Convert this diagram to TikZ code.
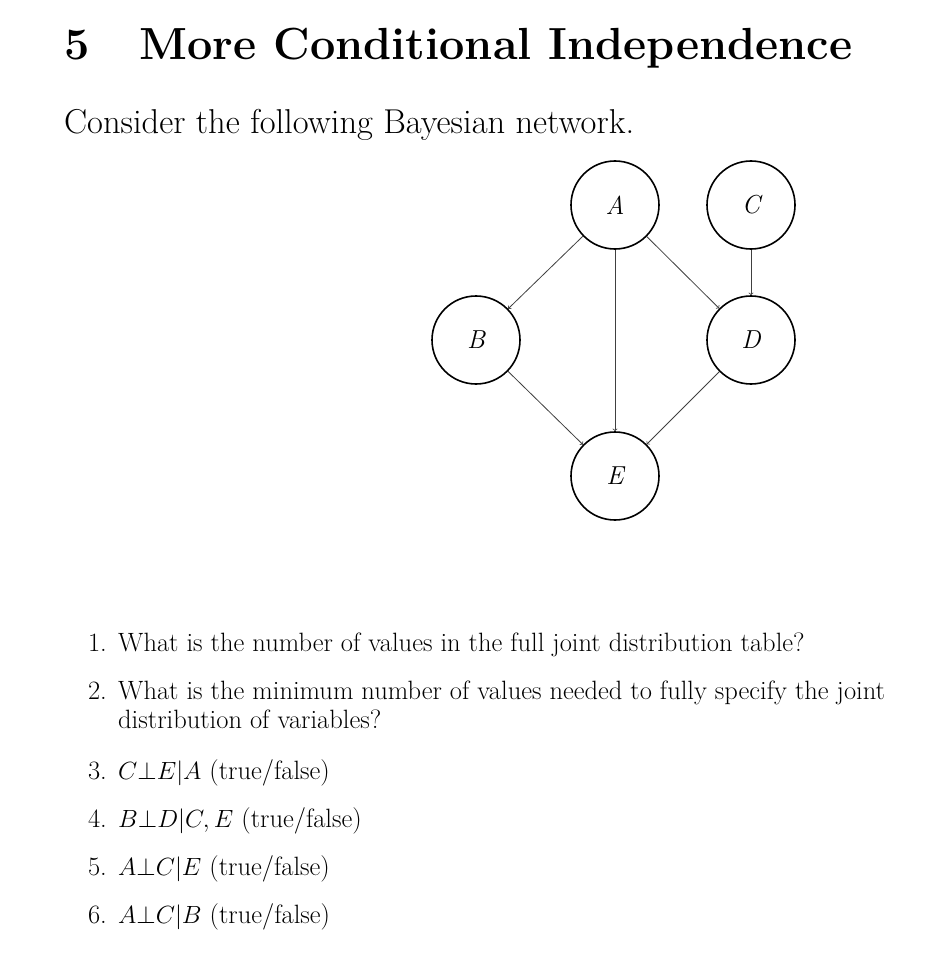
\documentclass[tikz,border=0pt]{standalone}
\usepackage{amsmath}
\begin{document}
\begin{tikzpicture}[x=1pt,y=-1pt,
  bn/.style={circle,draw,line width=1.6pt,minimum size=88pt,inner sep=0pt,font=\fontsize{26}{30}\selectfont\itshape},
  edge/.style={->,line width=0.8pt,draw=black!75},
  txt/.style={anchor=base west,inner sep=0pt,font=\fontsize{26.5}{31}\selectfont},
  num/.style={anchor=base east,inner sep=0pt,font=\fontsize{26.5}{31}\selectfont}]
\useasboundingbox (0,0) rectangle (948,968);
\fill[white] (0,0) rectangle (948,968);
\node[anchor=west,inner sep=0pt,font=\fontsize{45}{52}\selectfont\bfseries] (title) at (64,48) {5\hspace{50pt}More Conditional Independence};
\node[anchor=west,inner sep=0pt,font=\fontsize{34.5}{40}\selectfont] (intro) at (64,125) {Consider the following Bayesian network.};
\node[bn] (A) at (615,205) {A};
\node[bn] (C) at (751,205) {C};
\node[bn] (B) at (476,340) {B};
\node[bn] (D) at (751,340) {D};
\node[bn] (E) at (615,476) {E};
\draw[edge] (A) -- (B);
\draw[edge] (A) -- (E);
\draw[edge] (A) -- (D);
\draw[edge] (C) -- (D);
\draw[edge] (B) -- (E);
\draw[edge] (D) -- (E);
\node[num] (n1) at (107,651) {1.};
\node[txt] (t1) at (118,651) {What is the number of values in the full joint distribution table?};
\node[num] (n2) at (107,699) {2.};
\node[txt] (t2) at (118,699) {What is the minimum number of values needed to fully specify the joint};
\node[txt] (t2b) at (118,728) {distribution of variables?};
\node[num] (n3) at (107,779) {3.};
\node[txt] (t3) at (118,779) {$C{\perp}E|A$ (true/false)};
\node[num] (n4) at (107,827) {4.};
\node[txt] (t4) at (118,827) {$B{\perp}D|C,E$ (true/false)};
\node[num] (n5) at (107,875) {5.};
\node[txt] (t5) at (118,875) {$A{\perp}C|E$ (true/false)};
\node[num] (n6) at (107,923) {6.};
\node[txt] (t6) at (118,923) {$A{\perp}C|B$ (true/false)};
\end{tikzpicture}
\end{document}
